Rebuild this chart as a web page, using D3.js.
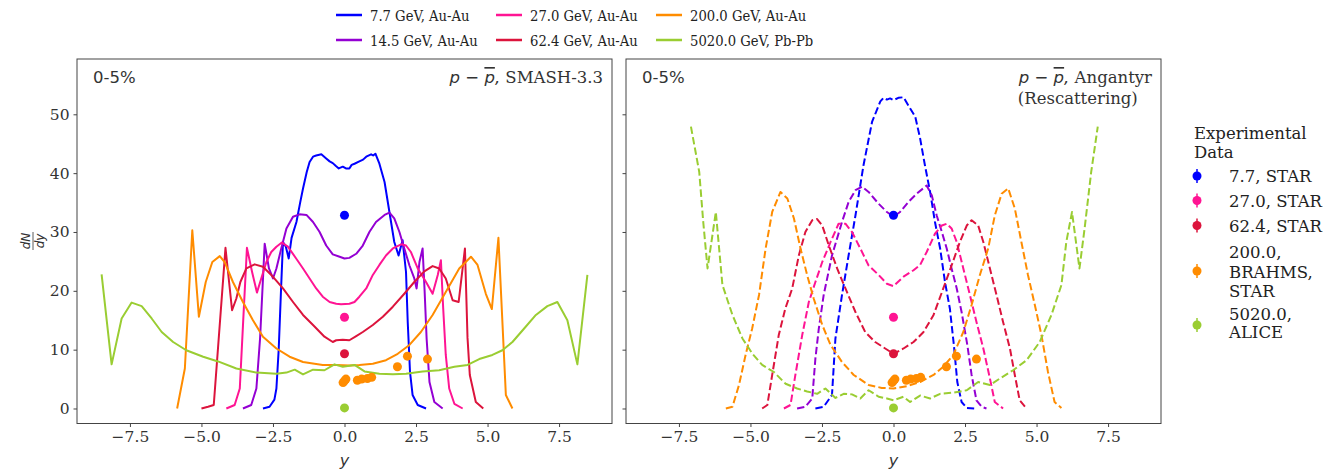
<!DOCTYPE html>
<html><head><meta charset="utf-8">
<script src="https://cdn.jsdelivr.net/npm/d3@7"></script>
<style>body{margin:0;background:#fff}svg{display:block}</style>
</head><body>
<script>
// ---------- data ----------
const energies = ["7.7 GeV, Au-Au","14.5 GeV, Au-Au","27.0 GeV, Au-Au","62.4 GeV, Au-Au","200.0 GeV, Au-Au","5020.0 GeV, Pb-Pb"];
const colors = ["#0000ff","#9400d3","#ff1493","#dc143c","#ff8c00","#9acd32"];
const xTicks = [-7.5,-5.0,-2.5,0.0,2.5,5.0,7.5];
const yTicks = [0,10,20,30,40,50];

const smash77 = [[-2.85,0],[-2.62,0.3],[-2.45,1.5],[-2.38,3.4],[-2.3,10],[-2.22,20],[-2.15,28.3],[-2.05,27.5],[-1.95,25.5],[-1.85,29],[-1.68,31.7],[-1.55,35],[-1.45,37.4],[-1.32,40.2],[-1.22,41.9],[-1.1,42.8],[-0.99,43],[-0.81,43.2],[-0.64,42.5],[-0.52,42],[-0.41,41.7],[-0.3,41.2],[-0.2,40.8],[-0.06,41.1],[0.05,40.8],[0.17,40.8],[0.25,41.4],[0.35,41.6],[0.52,42],[0.65,42.3],[0.76,42.8],[0.93,43.2],[1.0,43.0],[1.08,43.3],[1.22,41.6],[1.4,38.5],[1.57,33.4],[1.74,28.3],[1.89,26],[2.03,28.6],[2.15,23.2],[2.21,14.7],[2.29,6.2],[2.38,2.3],[2.56,0.6],[2.85,0]];
const smash145 = [[-3.55,0],[-3.26,0.6],[-3.08,3.4],[-2.95,12],[-2.85,22],[-2.79,28],[-2.64,23.8],[-2.5,22.1],[-2.38,23.8],[-2.21,27.2],[-2.03,30.6],[-1.8,32.6],[-1.57,33],[-1.33,32.9],[-1.1,31.7],[-0.87,30],[-0.64,27.7],[-0.41,26.2],[-0.17,25.8],[0.0,25.5],[0.17,25.6],[0.41,26.3],[0.64,27.7],[0.87,30],[1.1,31.7],[1.4,32.9],[1.57,33.3],[1.74,32.3],[1.92,30],[2.09,27.2],[2.27,24.3],[2.44,22.1],[2.52,20.4],[2.62,24.9],[2.73,27.2],[2.8,20],[2.87,11.9],[2.97,4.5],[3.14,1.1],[3.43,0]];
const smash27 = [[-4.13,0],[-3.84,0.6],[-3.66,3.4],[-3.55,14],[-3.41,27.3],[-3.23,23.2],[-3.06,19.7],[-2.91,22.1],[-2.73,24.9],[-2.56,26.6],[-2.38,27.5],[-2.19,28.2],[-1.98,27.5],[-1.69,25.5],[-1.45,23.8],[-1.22,22.1],[-0.99,20.4],[-0.76,19],[-0.52,18.1],[-0.29,17.8],[-0.12,17.7],[0.17,17.8],[0.35,18.1],[0.52,19],[0.76,20.4],[0.99,22.7],[1.22,24.4],[1.45,26],[1.69,27.2],[1.98,27.9],[2.15,27.7],[2.32,26.6],[2.56,23.8],[2.85,21.5],[3.08,19.5],[3.26,22.7],[3.37,25.2],[3.45,17],[3.54,9.1],[3.66,3.4],[3.84,0.8],[4.13,0]];
const smash624 = [[-5.0,0],[-4.77,0.3],[-4.57,0.6],[-4.16,27.3],[-3.93,16.7],[-3.78,18.7],[-3.64,21.5],[-3.43,23.8],[-3.14,24.5],[-2.85,24.1],[-2.56,22.7],[-2.15,20.4],[-1.8,18.1],[-1.45,15.9],[-1.1,14.2],[-0.7,12.2],[-0.41,11.3],[-0.29,11.6],[-0.06,11.7],[0.17,11.6],[0.41,12.3],[0.64,13],[0.99,14.2],[1.34,15.6],[1.69,17.3],[2.09,19.5],[2.44,21.5],[2.79,23.3],[3.08,24.2],[3.31,23.8],[3.54,22.1],[3.78,18.4],[3.99,18.1],[4.21,27.2],[4.3,12],[4.38,5.7],[4.59,1.1],[4.85,0]];
const smash200 = [[-5.85,0],[-5.58,6.8],[-5.32,30.3],[-5.09,15.6],[-4.85,21.5],[-4.62,24.9],[-4.36,25.9],[-4.19,24.9],[-3.9,21.5],[-3.55,18.1],[-3.2,15],[-2.85,12.2],[-2.38,10.2],[-1.92,8.8],[-1.45,7.9],[-0.76,7.4],[-0.29,7.4],[0.17,7.3],[0.52,7.4],[0.99,7.6],[1.45,8.2],[1.86,9.3],[2.27,10.8],[2.67,13],[3.08,15.9],[3.54,19.8],[4.01,23.8],[4.42,25.8],[4.65,24.4],[4.94,19.5],[5.15,16.9],[5.38,29],[5.64,2.3],[5.87,0]];
const smash5020 = [[-8.49,22.8],[-8.14,7.5],[-7.79,15.3],[-7.44,18],[-7.09,17.4],[-6.74,15.3],[-6.39,13],[-5.99,11.3],[-5.53,9.9],[-4.94,8.8],[-4.42,8],[-3.78,6.8],[-3.08,6.1],[-2.38,5.9],[-2.03,6.1],[-1.74,6.6],[-1.45,5.8],[-1.1,6.6],[-0.7,6.5],[-0.35,7.5],[-0.06,7.1],[0.35,7.4],[0.7,6.3],[1.22,5.9],[1.69,5.8],[2.15,5.9],[2.73,6.3],[3.31,6.5],[3.84,7.1],[4.3,7.4],[4.71,8.4],[5.17,9.1],[5.52,9.9],[5.87,11.3],[6.28,13.6],[6.69,15.9],[7.09,17.4],[7.44,18.1],[7.79,15],[8.14,7.5],[8.49,22.7]];

const ang77 = [[-2.73,0],[-2.44,0.3],[-2.15,2.3],[-2.03,11.9],[-1.8,19.3],[-1.57,26],[-1.33,32.8],[-1.05,41.3],[-0.75,48.7],[-0.46,52.2],[-0.35,52.8],[-0.23,52.5],[-0.12,52.7],[0.0,52.4],[0.17,52.8],[0.35,52.9],[0.52,51.5],[0.76,49.6],[0.93,45.9],[1.1,41.3],[1.28,36.8],[1.45,31.7],[1.63,27.2],[1.8,21.5],[1.97,17],[2.11,10.8],[2.23,4.5],[2.38,1.1],[2.56,0.1],[2.82,0]];
const ang145 = [[-3.37,0],[-3.08,0.3],[-2.84,1.7],[-2.73,8.5],[-2.61,13.6],[-2.44,19.3],[-2.15,26],[-1.8,31.7],[-1.57,35.1],[-1.33,37.1],[-1.1,37.7],[-0.87,36.8],[-0.52,34.8],[-0.23,33.4],[0.0,32.6],[0.23,33.4],[0.52,35.1],[0.81,36.5],[1.16,37.9],[1.34,36.2],[1.51,32.8],[1.69,30],[1.86,27.2],[2.03,23.8],[2.21,20.4],[2.38,16.4],[2.58,10.8],[2.73,5.7],[2.9,1.4],[3.08,0.3],[3.25,0]];
const ang27 = [[-3.83,0],[-3.6,0.6],[-3.43,5.7],[-3.19,12.5],[-2.96,18.1],[-2.73,21.5],[-2.49,24.9],[-2.2,28.3],[-1.92,31.4],[-1.68,31.4],[-1.45,30],[-1.16,27.2],[-0.87,24.3],[-0.52,22.7],[-0.23,21.2],[0.0,20.8],[0.35,22.4],[0.7,23.5],[0.93,24.4],[1.16,26.6],[1.45,29.7],[1.69,31.1],[1.86,31.4],[2.03,30.6],[2.21,28.3],[2.44,23.8],[2.67,19.3],[2.9,14.7],[3.14,10.2],[3.37,5.1],[3.54,1.1],[3.83,0]];
const ang624 = [[-4.59,0],[-4.41,0.6],[-4.24,5.7],[-4.01,12.5],[-3.78,17],[-3.54,20.4],[-3.31,26],[-3.08,30],[-2.84,32],[-2.67,32.2],[-2.49,31.1],[-2.26,27.7],[-1.97,23.8],[-1.68,20.4],[-1.33,16.4],[-0.99,13],[-0.64,11.3],[-0.29,10.2],[0.0,9.3],[0.35,10.2],[0.7,11.3],[1.05,13],[1.4,15.9],[1.74,20.4],[2.03,24.3],[2.32,28.3],[2.56,31.1],[2.73,32],[2.96,31.1],[3.14,28.3],[3.37,23.8],[3.6,19.3],[3.83,14.7],[4.07,10.2],[4.24,5.7],[4.41,1.4],[4.65,0]];
const ang200 = [[-5.86,0],[-5.63,0.3],[-5.4,4],[-5.17,9.1],[-4.94,13.6],[-4.7,19.3],[-4.47,27.2],[-4.24,33.4],[-3.95,36.8],[-3.71,35.7],[-3.48,32.3],[-3.25,27.2],[-3.02,22.7],[-2.79,18.7],[-2.49,14.2],[-2.2,10.8],[-1.8,7.9],[-1.39,5.7],[-0.87,4],[-0.41,3.5],[0.0,3.4],[0.46,3.8],[0.93,4.5],[1.4,5.7],[1.74,7.1],[2.09,9.1],[2.44,13],[2.73,17.6],[3.02,22.7],[3.31,27.2],[3.54,32.8],[3.78,36.5],[4.01,37.4],[4.24,34],[4.47,28.3],[4.7,22.7],[4.94,17.6],[5.17,12.5],[5.4,6.2],[5.63,1.1],[5.87,0.1]];
const ang5020 = [[-7.08,47.9],[-6.79,40.2],[-6.65,31.7],[-6.5,23.8],[-6.21,33.4],[-5.98,21],[-5.63,15.9],[-5.28,11.9],[-4.93,9.3],[-4.59,7.4],[-4.18,6.2],[-3.77,4.2],[-3.37,3.4],[-3.02,2.9],[-2.67,2.5],[-2.38,3.4],[-2.03,1.8],[-1.74,2.5],[-1.45,2.4],[-1.16,1.7],[-0.87,3.1],[-0.52,2],[-0.23,1.7],[0.0,1.4],[0.35,2],[0.58,1.1],[0.93,2.2],[1.28,1.7],[1.63,2.5],[2.09,2.7],[2.56,3.1],[2.96,4.5],[3.37,4],[3.72,5.1],[4.18,6.5],[4.65,8.2],[5.11,11.3],[5.52,15.9],[5.87,21],[6.04,28.3],[6.24,33.4],[6.5,23.8],[6.68,30.6],[6.91,40.2],[7.14,47.9]];

// experimental: [y, value, error]
const exp77 = [[0,32.85,0.4]];
const exp27 = [[0,15.5,0.3]];
const exp624 = [[0,9.3,0.3]];
const exp200 = [[-0.05,4.4,0.4],[0,4.7,0.4],[0.05,5.0,0.4],[0.45,4.8,0.3],[0.6,5.0,0.3],[0.8,5.1,0.3],[0.95,5.3,0.3],[1.85,7.1,0.3],[2.2,8.9,0.4],[2.9,8.4,0.4]];
const exp5020 = [[0,0.1,0.2]];
const expLabels = [["7.7, STAR"],["27.0, STAR"],["62.4, STAR"],["200.0,","BRAHMS,","STAR"],["5020.0,","ALICE"]];
const expColors = ["#0000ff","#ff1493","#dc143c","#ff8c00","#9acd32"];

const smashSeries = [smash77,smash145,smash27,smash624,smash200,smash5020];
const angSeries = [ang77,ang145,ang27,ang624,ang200,ang5020];
const expSeries = [exp77,exp27,exp624,exp200,exp5020];

// ---------- layout ----------
const W=1326,H=470;
const plotTop=59,plotBottom=423.5;
const panels=[{x0:77,x1:612,series:smashSeries,dash:null,label:["SMASH-3.3"]},
              {x0:626,x1:1161,series:angSeries,dash:"7.4,3.2",label:["Angantyr","(Rescattering)"]}];
const serif="'DejaVu Serif', serif", sans="'DejaVu Sans', sans-serif";
const ink="#333";
const svg=d3.select("body").append("svg").attr("width",W).attr("height",H);
const yScale=d3.scaleLinear().domain([-2.55,59.4]).range([plotBottom,plotTop]);
const fmt=d=>d3.format(".1f")(d).replace("-","\u2212");

panels.forEach((p,pi)=>{
  const x=d3.scaleLinear().domain([-9.35,9.35]).range([p.x0,p.x1]);
  const g=svg.append("g");
  const clipId="clip"+pi;
  svg.append("clipPath").attr("id",clipId).append("rect").attr("x",p.x0).attr("y",plotTop).attr("width",p.x1-p.x0).attr("height",plotBottom-plotTop);
  const line=d3.line().x(d=>x(d[0])).y(d=>yScale(d[1]));
  const lg=g.append("g").attr("clip-path",`url(#${clipId})`);
  p.series.forEach((s,i)=>{
    lg.append("path").attr("d",line(s)).attr("fill","none").attr("stroke",colors[i])
      .attr("stroke-width",2).attr("stroke-linejoin","round")
      .attr("stroke-dasharray",p.dash);
  });
  expSeries.forEach((s,i)=>{
    s.forEach(d=>{
      lg.append("line").attr("x1",x(d[0])).attr("x2",x(d[0])).attr("y1",yScale(d[1]-d[2])).attr("y2",yScale(d[1]+d[2]))
        .attr("stroke",expColors[i]).attr("stroke-width",1.5);
      lg.append("circle").attr("cx",x(d[0])).attr("cy",yScale(d[1])).attr("r",4.5).attr("fill",expColors[i]);
    });
  });
  // frame
  g.append("rect").attr("x",p.x0).attr("y",plotTop).attr("width",p.x1-p.x0).attr("height",plotBottom-plotTop)
    .attr("fill","none").attr("stroke","#444").attr("stroke-width",1);
  // x axis
  const xa=g.append("g").attr("transform",`translate(0,${plotBottom})`)
    .call(d3.axisBottom(x).tickValues(xTicks).tickSize(3.5).tickPadding(4).tickFormat(fmt));
  xa.select(".domain").remove();
  xa.selectAll("line").attr("stroke","#444");
  xa.selectAll("text").attr("font-family",serif).attr("font-size",15.5).attr("fill",ink);
  // y axis
  const ya=g.append("g").attr("transform",`translate(${p.x0},0)`)
    .call(d3.axisLeft(yScale).tickValues(yTicks).tickSize(3.5).tickPadding(4).tickFormat(pi===0?d3.format("d"):""));
  ya.select(".domain").remove();
  ya.selectAll("line").attr("stroke","#444");
  ya.selectAll("text").attr("font-family",serif).attr("font-size",15.5).attr("fill",ink);
  // x label
  g.append("text").attr("x",x(0)).attr("y",466).attr("text-anchor","middle")
    .attr("font-family",sans).attr("font-style","italic").attr("font-size",16).attr("fill",ink).text("y");
  // 0-5%
  g.append("text").attr("x",p.x0+16).attr("y",83).attr("font-family",sans).attr("font-size",16.5).attr("fill",ink).text("0-5%");
  // model label: first line right-aligned, further lines left-aligned with it
  const t=g.append("text").attr("x",p.x1-9).attr("y",83).attr("text-anchor","end").attr("font-size",16.5).attr("fill",ink);
  t.append("tspan").attr("font-family",sans).attr("font-style","italic").text("p");
  t.append("tspan").attr("font-family",sans).text(" \u2212 ");
  t.append("tspan").attr("font-family",sans).attr("font-style","italic").attr("text-decoration","overline").text("p");
  t.append("tspan").attr("font-family",sans).attr("font-style","italic").text(",");
  t.append("tspan").attr("font-family",serif).text(" "+p.label[0]);
  if(p.label[1]){
    const bx=t.node().getBBox().x;
    g.append("text").attr("x",bx).attr("y",104).attr("font-family",serif).attr("font-size",16.5).attr("fill",ink).text(p.label[1]);
  }
});

// y label dN/dy (rotated fraction)
const yl=svg.append("g").attr("transform","translate(33,241) rotate(-90)");
yl.append("text").attr("x",0).attr("y",-3).attr("text-anchor","middle").attr("font-family",sans).attr("font-style","italic").attr("font-size",12).attr("fill",ink).text("dN");
yl.append("line").attr("x1",-9).attr("x2",9).attr("y1",0).attr("y2",0).attr("stroke",ink).attr("stroke-width",0.8);
yl.append("text").attr("x",0).attr("y",11).attr("text-anchor","middle").attr("font-family",sans).attr("font-style","italic").attr("font-size",12).attr("fill",ink).text("dy");

// top legend
const legX=[336,496,656], legY=[15,40];
energies.forEach((e,i)=>{
  const col=Math.floor(i/2), row=i%2;
  const lx=legX[col], ly=legY[row];
  svg.append("line").attr("x1",lx).attr("x2",lx+26).attr("y1",ly).attr("y2",ly).attr("stroke",colors[i]).attr("stroke-width",2.5);
  svg.append("text").attr("transform",`translate(${lx+34},${ly+5.5}) scale(0.85,1)`)
    .attr("font-family",serif).attr("font-size",15.5).attr("fill","#222").text(e);
});

// right legend
const rl=svg.append("g");
rl.append("text").attr("x",1194).attr("y",138.5).attr("font-family",serif).attr("font-size",16.5).attr("fill","#222").text("Experimental");
rl.append("text").attr("x",1194).attr("y",157.5).attr("font-family",serif).attr("font-size",16.5).attr("fill","#222").text("Data");
const markerY=[176,200.5,225.5,271,325];
const textY=[[176],[200.5],[225.5],[252,271.5,290.5],[313.5,332]];
expLabels.forEach((lab,i)=>{
  rl.append("line").attr("x1",1197).attr("x2",1197).attr("y1",markerY[i]-7).attr("y2",markerY[i]+7).attr("stroke",expColors[i]).attr("stroke-width",1.5);
  rl.append("circle").attr("cx",1197).attr("cy",markerY[i]).attr("r",4.5).attr("fill",expColors[i]);
  lab.forEach((s,j)=>{
    rl.append("text").attr("x",1229).attr("y",textY[i][j]+6).attr("font-family",serif).attr("font-size",16.5).attr("fill","#222").text(s);
  });
});
</script>
</body></html>
